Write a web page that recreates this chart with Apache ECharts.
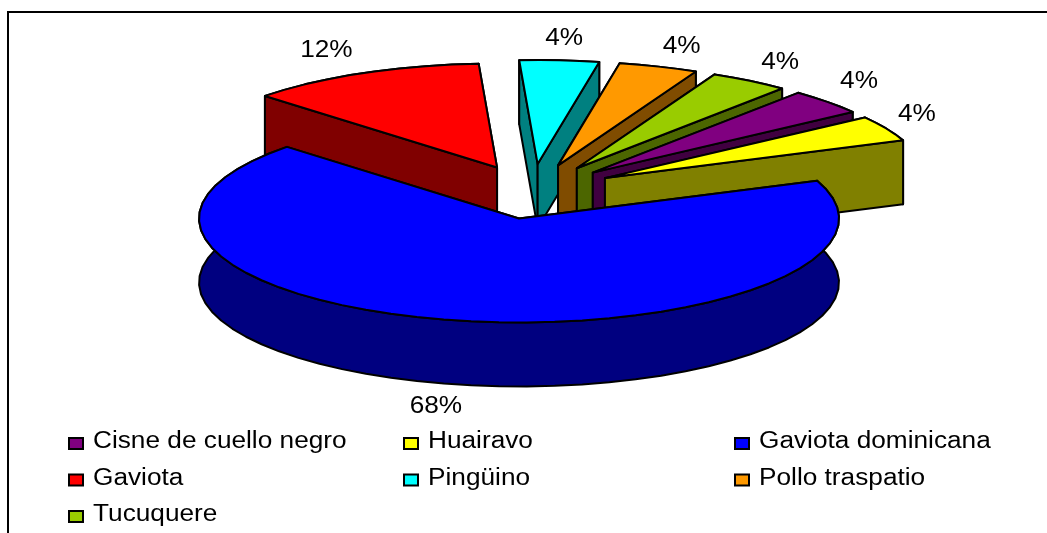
<!DOCTYPE html>
<html>
<head>
<meta charset="utf-8">
<style>html,body{margin:0;padding:0;background:#fff}#c{width:1047px;height:533px}</style>
<script src="https://cdn.jsdelivr.net/npm/echarts@6/dist/echarts.min.js"></script>
</head>
<body>
<div id="c"></div>
<script>
const categories = ['Cisne de cuello negro', 'Huairavo', 'Gaviota dominicana', 'Gaviota', 'Pingüino', 'Pollo traspatio', 'Tucuquere'];
const values = [1, 1, 17, 3, 1, 1, 1];
const percentLabels = ['4%', '4%', '68%', '12%', '4%', '4%', '4%'];
const topColors = ['#800080', '#FFFF00', '#0000FF', '#FF0000', '#00FFFF', '#FF9900', '#99CC00'];
const sideColors = ['#400040', '#808000', '#000080', '#800000', '#008080', '#804C00', '#4C6600'];
const legendColumns = [
  ['Cisne de cuello negro', 'Gaviota', 'Tucuquere'],
  ['Huairavo', 'Pingüino'],
  ['Gaviota dominicana', 'Pollo traspatio']
];

// pie projection
const CX = 532, CY = 191, RX = 320, RY = 104, DEPTH = 64, EX = 83, EY = 27, START_DEG = 39.9;
// layout tweaks per slice, in category order: extra slice shift and label nudge
const sliceShift = [[0, 0], [0, 0], [3, 1], [0, 1], [0, 0], [0, 0], [0, 0]];
const labelNudge = [[-8, 0], [-17, 0], [-11, -6], [-13, 4], [1, 7], [6, 8], [1, 6]];
const FONT = 'Liberation Sans', FONT_SIZE = 23, TEXT_STRETCH = 1.14;
const total = values.reduce((a, b) => a + b, 0);
const rad = d => d * Math.PI / 180;
const slices = [];
let acc = START_DEG;
values.forEach((v, i) => {
  const a0 = acc, a1 = acc + v / total * 360;
  slices.push({ a0, a1, mid: (a0 + a1) / 2 });
  acc = a1;
});

function renderSlice(i) {
  const s = slices[i];
  const sinM = Math.sin(rad(s.mid)), cosM = Math.cos(rad(s.mid));
  const ax = CX + EX * sinM + sliceShift[i][0], ay = CY - EY * cosM + sliceShift[i][1];
  const pt = (deg, dz) => [ax + RX * Math.sin(rad(deg)), ay - RY * Math.cos(rad(deg)) + (dz || 0)];
  const arcTop = [], arcBot = [];
  const n = Math.max(4, Math.ceil((s.a1 - s.a0) / 5));
  for (let k = 0; k <= n; k++) {
    const d = s.a0 + (s.a1 - s.a0) * k / n;
    arcTop.push(pt(d, 0));
    arcBot.push(pt(d, DEPTH));
  }
  const stroke = { stroke: '#000', lineWidth: 2, lineJoin: 'round' };
  const poly = (points, fill) => ({ type: 'polygon', shape: { points }, style: Object.assign({ fill }, stroke) });
  const apex = [ax, ay], apexB = [ax, ay + DEPTH];
  const startWall = poly([apex, pt(s.a0, 0), pt(s.a0, DEPTH), apexB], sideColors[i]);
  const endWall = poly([apex, pt(s.a1, 0), pt(s.a1, DEPTH), apexB], sideColors[i]);
  const outer = poly(arcTop.concat(arcBot.slice().reverse()), sideColors[i]);
  const top = poly([apex].concat(arcTop), topColors[i]);
  const walls = sinM >= 0 ? [startWall, endWall] : [endWall, startWall];
  const label = {
    type: 'text',
    x: ax + RX * 1.17 * sinM + labelNudge[i][0],
    y: ay - RY * 1.28 * cosM + (cosM < 0 ? DEPTH : 0) + labelNudge[i][1],
    scaleX: TEXT_STRETCH,
    style: { text: percentLabels[i], fill: '#000', font: FONT_SIZE + 'px "' + FONT + '"', align: 'center', verticalAlign: 'middle' }
  };
  return { type: 'group', children: [outer].concat(walls, [top, label]) };
}

// paint back to front: largest slice last, the rest clockwise after it
const largest = values.indexOf(Math.max.apply(null, values));
const drawOrder = categories.map((_, k) => (largest + 1 + k) % categories.length);

const series = drawOrder.map(i => ({
  type: 'custom',
  name: categories[i],
  coordinateSystem: 'none',
  silent: true,
  itemStyle: { color: topColors[i] },
  data: [values[i]],
  renderItem: () => renderSlice(i)
}));

const legendLeft = [68, 403, 734];
const LEGEND_TOP = 437, ROW_PITCH = 36.5, TEXT_OFFSET = 25, TEXT_TOP = 442;
const legend = legendColumns.map((names, c) => ({
  orient: 'vertical',
  left: legendLeft[c],
  top: LEGEND_TOP,
  padding: 0,
  data: names,
  icon: 'rect',
  itemWidth: 14,
  itemHeight: 11,
  itemGap: ROW_PITCH - 13,
  selectedMode: false,
  formatter: () => '',
  itemStyle: { borderColor: '#000', borderWidth: 2 }
}));

const legendTexts = [];
legendColumns.forEach((names, c) => names.forEach((name, r) => legendTexts.push({
  type: 'text',
  x: legendLeft[c] + TEXT_OFFSET,
  y: TEXT_TOP + r * ROW_PITCH,
  scaleX: TEXT_STRETCH,
  silent: true,
  style: { text: name, fill: '#000', font: FONT_SIZE + 'px "' + FONT + '"', verticalAlign: 'middle' }
})));

const chart = echarts.init(document.getElementById('c'), null, { renderer: 'canvas' });
chart.setOption({
  animation: false,
  backgroundColor: '#fff',
  legend,
  series,
  graphic: [
    { type: 'polyline', shape: { points: [[8, 533], [8, 12], [1047, 12]] }, style: { stroke: '#000', lineWidth: 2, fill: null }, silent: true }
  ].concat(legendTexts)
});
</script>
</body>
</html>
